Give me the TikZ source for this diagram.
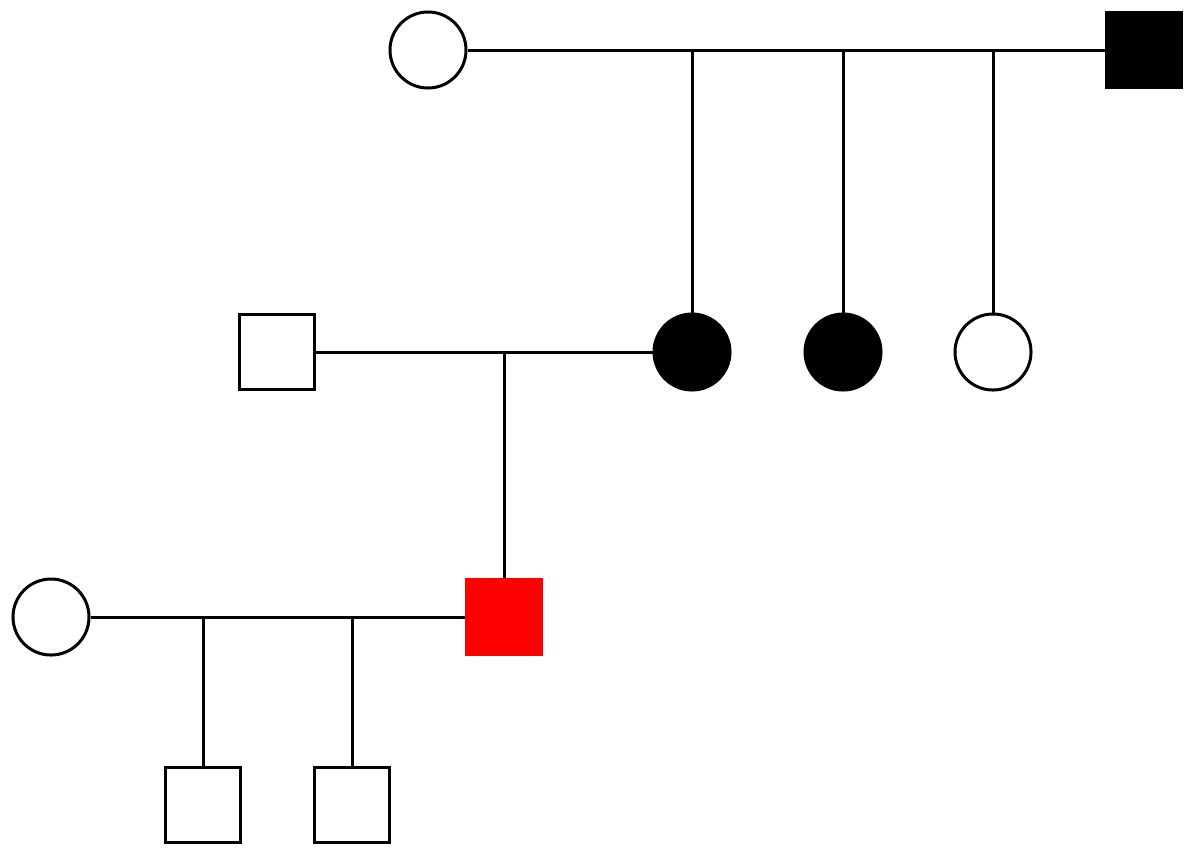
\documentclass[tikz,border=0pt]{standalone}
\usepackage{tikz}
\usetikzlibrary{positioning}
\definecolor{ped-ink}{HTML}{000000}
\definecolor{ped-red}{HTML}{FF0000}

\begin{document}
\begin{tikzpicture}[x=0.025cm, y=-0.025cm, line width=0.075cm,
    female/.style={circle, draw=ped-ink, fill=white, minimum size=1.9cm, inner sep=0pt},
    male/.style={rectangle, draw=ped-ink, fill=white, minimum size=1.875cm, inner sep=0pt},
    affected/.style={fill=ped-ink},
    index/.style={draw=ped-red, fill=ped-red}]
  \useasboundingbox (0,0) rectangle (1200,858);
  % generation I
  \node[female] (grandma) at (428,50) {};
  \node[male, affected] (grandpa) at (1144,50) {};
  % generation II
  \node[male] (husband) at (277,352) {};
  \node[female, affected] (daughterA) at (692,352) {};
  \node[female, affected] (daughterB) at (843,352) {};
  \node[female] (daughterC) at (993,352) {};
  % generation III
  \node[female] (wife) at (51,617) {};
  \node[male, index] (proband) at (504,617) {};
  % generation IV
  \node[male] (sonA) at (203,805) {};
  \node[male] (sonB) at (352,805) {};
  % parejas
  \draw (grandma) -- (grandpa);
  \draw (husband) -- (daughterA);
  \draw (wife) -- (proband);
  % hijos
  \foreach \kid in {daughterA, daughterB, daughterC}
    \draw (\kid.north |- grandma) -- (\kid);
  \draw (proband.north |- husband) -- (proband);
  \foreach \kid in {sonA, sonB}
    \draw (\kid.north |- wife) -- (\kid);
\end{tikzpicture}
\end{document}
